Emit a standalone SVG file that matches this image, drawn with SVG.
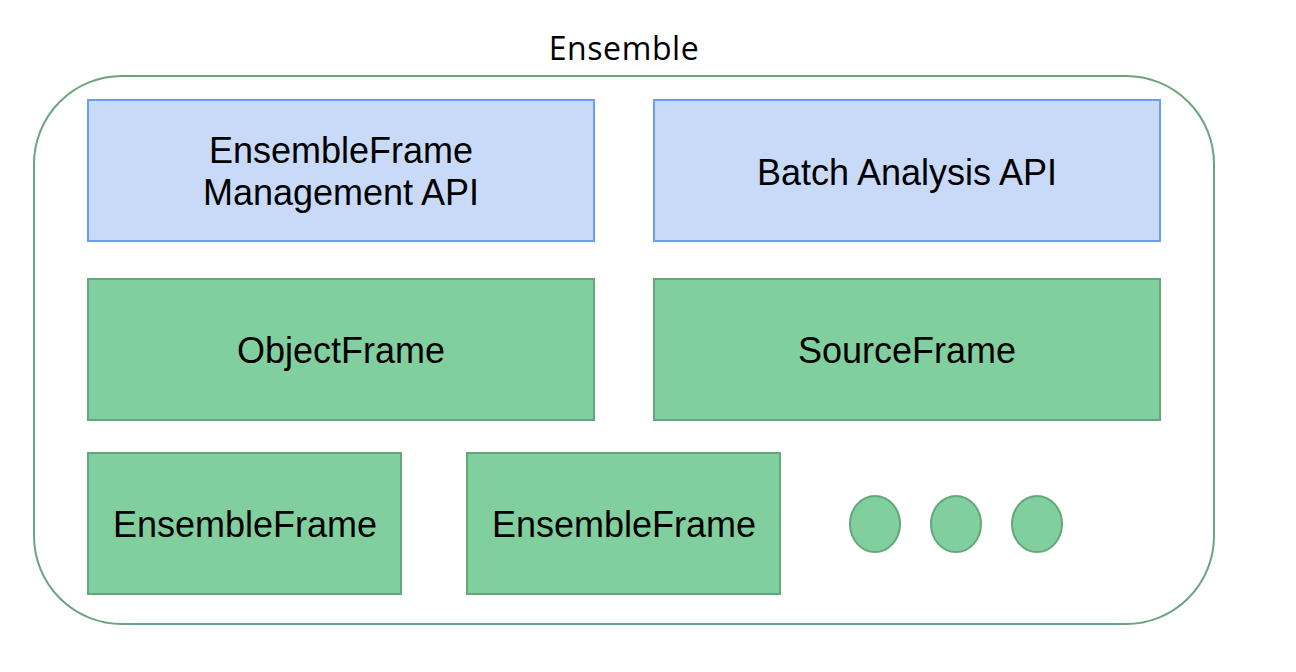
<svg xmlns="http://www.w3.org/2000/svg" width="1296" height="672" viewBox="0 0 1296 672">
<style>
.lbl{font-family:"Liberation Sans",Arial,sans-serif;font-size:36px;fill:#000;text-anchor:middle}
.blue{fill:#c9daf8;stroke:#6d9eeb;stroke-width:2}
.green{fill:#81cf9e;stroke:#63a77a;stroke-width:2}
</style>
<rect width="1296" height="672" fill="#fff"/>
<g id="ensemble">
<rect x="34" y="76" width="1180" height="548" rx="88" ry="88" fill="none" stroke="#6aa57f" stroke-width="2"/>
<text x="624" y="60" style="font-family:'Open Sans',sans-serif;font-size:32px;letter-spacing:0.6px;fill:#000;text-anchor:middle">Ensemble</text>
</g>
<g id="mgmt-api">
<rect class="blue" x="88" y="100" width="506" height="141"/>
<text class="lbl" x="341" y="163">EnsembleFrame</text>
<text class="lbl" x="341" y="205">Management API</text>
</g>
<g id="batch-api">
<rect class="blue" x="654" y="100" width="506" height="141"/>
<text class="lbl" x="907" y="185">Batch Analysis API</text>
</g>
<g id="objectframe">
<rect class="green" x="88" y="279" width="506" height="141"/>
<text class="lbl" x="341" y="363">ObjectFrame</text>
</g>
<g id="sourceframe">
<rect class="green" x="654" y="279" width="506" height="141"/>
<text class="lbl" x="907" y="363">SourceFrame</text>
</g>
<g id="ensembleframe1">
<rect class="green" x="88" y="453" width="313" height="141"/>
<text class="lbl" x="245" y="537">EnsembleFrame</text>
</g>
<g id="ensembleframe2">
<rect class="green" x="467" y="453" width="313" height="141"/>
<text class="lbl" x="624" y="537">EnsembleFrame</text>
</g>
<g id="dots">
<ellipse class="green" cx="875" cy="524" rx="25" ry="28"/>
<ellipse class="green" cx="956" cy="524" rx="25" ry="28"/>
<ellipse class="green" cx="1037" cy="524" rx="25" ry="28"/>
</g>
<g id="connectors"/>
</svg>
